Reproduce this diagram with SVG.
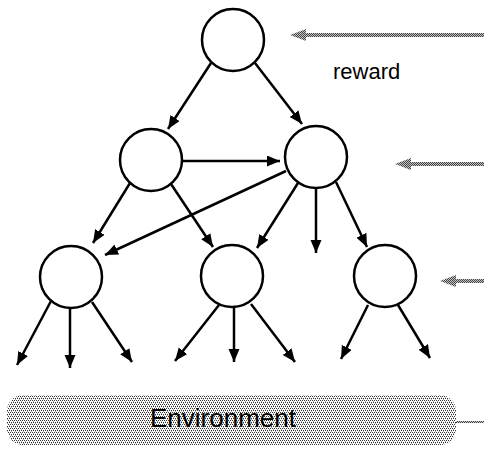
<svg xmlns="http://www.w3.org/2000/svg" width="484" height="453" viewBox="0 0 484 453">
<style>
.node{fill:#fff;stroke:#000;stroke-width:2.5}
.edge{fill:none;stroke:#000;stroke-width:2.5;marker-end:url(#ah)}
.lbl{font-family:"Liberation Sans",Arial,sans-serif;fill:#000}
.gray{fill:url(#checker)}
</style>
<defs>
<marker id="ah" markerUnits="userSpaceOnUse" markerWidth="15" markerHeight="12" refX="13" refY="5.5" orient="auto">
<path d="M0,0 L13,5.5 L0,11 z" fill="#000"/>
</marker>
<pattern id="checker" patternUnits="userSpaceOnUse" width="2" height="2">
<rect width="2" height="2" fill="#c4c4c4"/>
<rect width="1" height="1" fill="#444"/>
<rect x="1" y="1" width="1" height="1" fill="#444"/>
</pattern>
<pattern id="dots" patternUnits="userSpaceOnUse" width="4" height="4">
<rect width="4" height="4" fill="#fff"/>
<rect x="0" y="0" width="1" height="1" fill="#333"/>
<rect x="2" y="0" width="1" height="1" fill="#333"/>
<rect x="1" y="2" width="1" height="1" fill="#333"/>
<rect x="3" y="2" width="1" height="1" fill="#333"/>
<rect x="1" y="1" width="1" height="1" fill="#aaa"/>
<rect x="3" y="3" width="1" height="1" fill="#aaa"/>
</pattern>
</defs>
<g id="connectors">
<line class="edge" x1="211" y1="63" x2="168" y2="129"/>
<line class="edge" x1="255" y1="63" x2="302" y2="124"/>
<line class="edge" x1="183" y1="161" x2="280" y2="161"/>
<line class="edge" x1="286" y1="171" x2="105" y2="255"/>
<line class="edge" x1="130" y1="183" x2="93" y2="243"/>
<line class="edge" x1="171" y1="184" x2="213" y2="247"/>
<line class="edge" x1="298" y1="183" x2="257" y2="248"/>
<line class="edge" x1="316" y1="188" x2="316" y2="253"/>
<line class="edge" x1="336" y1="182" x2="367" y2="247"/>
<line class="edge" x1="51" y1="301" x2="17" y2="365"/>
<line class="edge" x1="70" y1="308" x2="70" y2="368"/>
<line class="edge" x1="92" y1="302" x2="132" y2="362"/>
<line class="edge" x1="219" y1="305" x2="175" y2="361"/>
<line class="edge" x1="234" y1="307" x2="234" y2="362"/>
<line class="edge" x1="251" y1="304" x2="295" y2="362"/>
<line class="edge" x1="368" y1="305" x2="341" y2="359"/>
<line class="edge" x1="398" y1="305" x2="430" y2="358"/>
</g>
<g id="signal-top"><path class="gray" d="M290,35 L306,29 L306,33 L484,33 L484,37 L306,37 L306,41 z"/></g>
<g id="signal-mid"><path class="gray" d="M395,164 L411,158 L411,162 L484,162 L484,166 L411,166 L411,170 z"/></g>
<g id="signal-low"><path class="gray" d="M440,281 L456,275 L456,279 L484,279 L484,283 L456,283 L456,287 z"/></g>
<g id="signal-env"><rect class="gray" x="456" y="421" width="28" height="2"/></g>
<g id="label-reward"><text class="lbl" x="333" y="79" font-size="22">reward</text></g>
<g id="n-top"><circle class="node" cx="233" cy="40" r="31"/></g>
<g id="n-ml"><circle class="node" cx="151" cy="160" r="31"/></g>
<g id="n-mr"><circle class="node" cx="316" cy="157" r="31"/></g>
<g id="n-bl"><circle class="node" cx="71" cy="277" r="31"/></g>
<g id="n-bm"><circle class="node" cx="232" cy="276" r="31"/></g>
<g id="n-br"><circle class="node" cx="385" cy="276" r="31"/></g>
<g id="environment">
<rect x="7" y="395" width="449" height="50" rx="16" fill="url(#dots)"/>
<text class="lbl" x="223" y="427" font-size="26" text-anchor="middle">Environment</text>
</g>
</svg>
